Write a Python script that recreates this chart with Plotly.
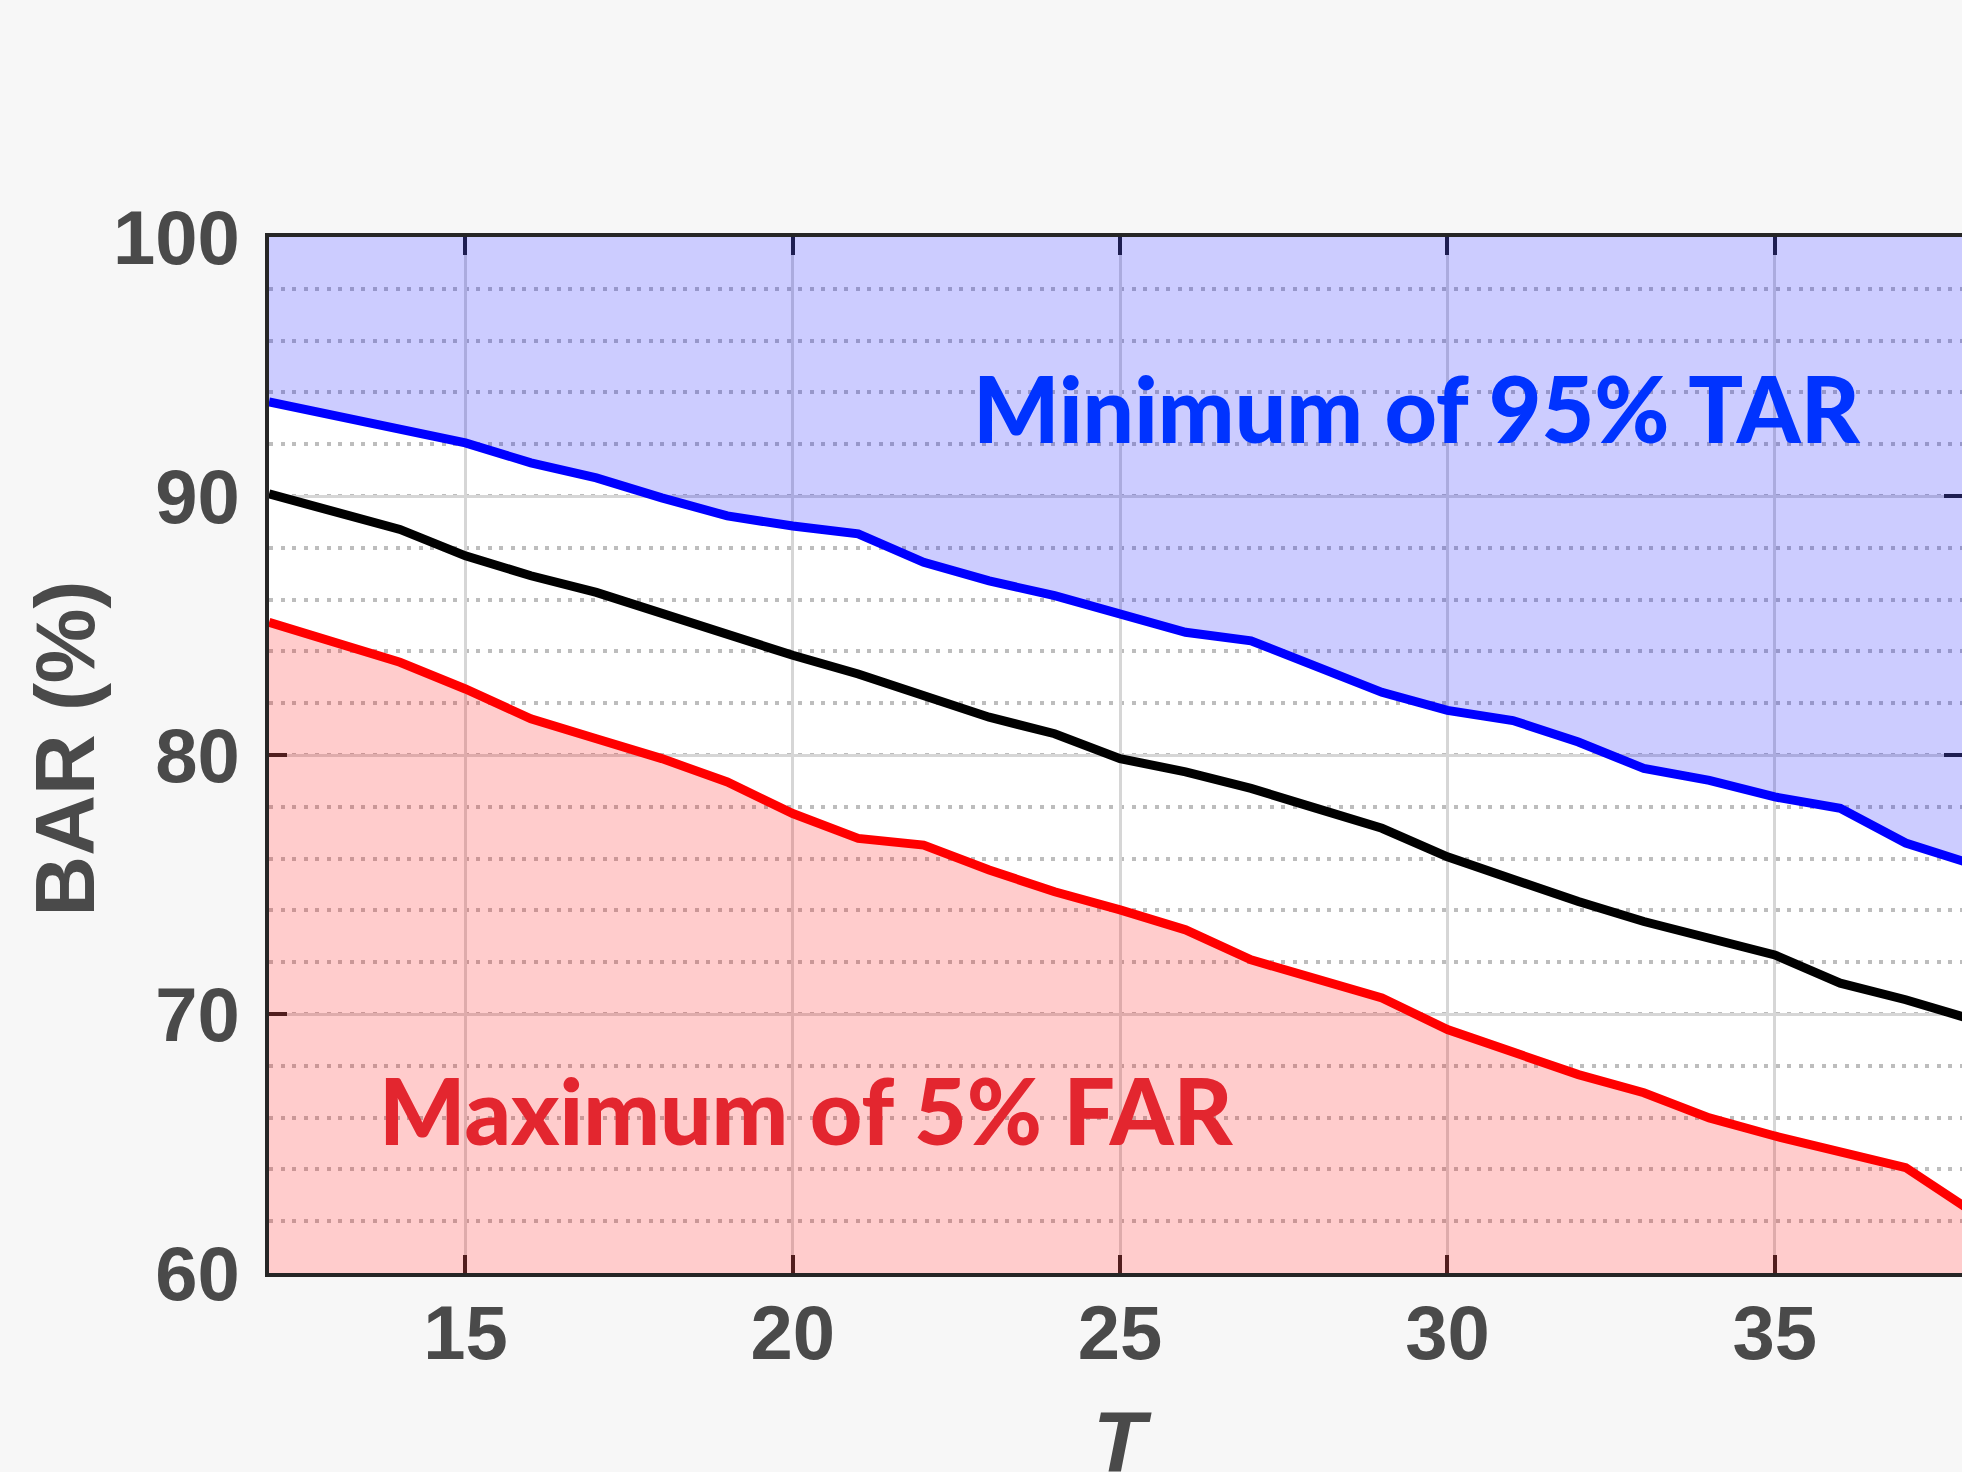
import plotly.graph_objects as go

# Data
T = list(range(12, 39))
tar_min = [93.63, 93.08, 92.56, 92.05, 91.28, 90.70, 89.93, 89.23, 88.84, 88.54,
           87.44, 86.72, 86.15, 85.44, 84.74, 84.41, 83.38, 82.42, 81.72, 81.33,
           80.50, 79.48, 79.02, 78.38, 77.94, 76.60, 75.80]
bar_mid = [90.08, 89.35, 88.71, 87.69, 86.92, 86.28, 85.44, 84.67, 83.85, 83.13,
           82.30, 81.46, 80.82, 79.86, 79.35, 78.71, 77.94, 77.17, 76.07, 75.17,
           74.34, 73.57, 72.93, 72.28, 71.19, 70.55, 69.80]
far_max = [85.12, 84.35, 83.58, 82.55, 81.40, 80.63, 79.86, 78.96, 77.74, 76.78,
           76.52, 75.56, 74.72, 74.02, 73.25, 72.09, 71.39, 70.62, 69.40, 68.50,
           67.66, 66.96, 65.99, 65.29, 64.71, 64.07, 62.40]
top_limit = [100] * len(T)

x_ticks = [15, 20, 25, 30, 35]
y_ticks = [60, 70, 80, 90, 100]

fig = go.Figure()
# shaded regions
fig.add_trace(go.Scatter(x=T, y=tar_min, mode="lines", line=dict(width=0),
                         showlegend=False, hoverinfo="skip"))
fig.add_trace(go.Scatter(x=T, y=top_limit, mode="lines", line=dict(width=0),
                         fill="tonexty", fillcolor="rgba(0,0,255,0.2)",
                         showlegend=False, hoverinfo="skip"))
fig.add_trace(go.Scatter(x=T, y=far_max, mode="lines", line=dict(width=0),
                         fill="tozeroy", fillcolor="rgba(255,0,0,0.2)",
                         showlegend=False, hoverinfo="skip"))
# lines
fig.add_trace(go.Scatter(x=T, y=far_max, mode="lines", line=dict(color="#ff0000", width=9),
                         showlegend=False))
fig.add_trace(go.Scatter(x=T, y=bar_mid, mode="lines", line=dict(color="#000000", width=9),
                         showlegend=False))
fig.add_trace(go.Scatter(x=T, y=tar_min, mode="lines", line=dict(color="#0000ff", width=9),
                         showlegend=False))

label_family = "Liberation Sans, Arial, sans-serif"
tick_font = dict(family=label_family, size=76, color="#4a4a4a", weight="bold")

fig.update_xaxes(
    range=[12, 37.86], tickvals=x_ticks, ticks="inside", ticklen=18, tickwidth=4,
    tickcolor="#262626", showline=True, linecolor="#262626", linewidth=4, mirror="ticks",
    showgrid=True, gridcolor="#d6d6d6", gridwidth=3, zeroline=False, layer="below traces",
    tickfont=tick_font, ticklabelstandoff=-9,
    automargin=False,
)
fig.update_yaxes(
    range=[60, 100], tickvals=y_ticks, ticks="inside", ticklen=18, tickwidth=4,
    tickcolor="#262626", showline=True, linecolor="#262626", linewidth=4, mirror="ticks",
    showgrid=True, gridcolor="#d6d6d6", gridwidth=3, zeroline=False, layer="below traces",
    minor=dict(dtick=2, showgrid=True, gridcolor="#bdbdbd", griddash="4px,7.5px", gridwidth=3.5),
    tickfont=tick_font, ticklabelstandoff=10,
    automargin=False,
)

# axis titles
fig.add_annotation(x=0.504, y=-0.114, xref="paper", yref="paper", text="T",
                   showarrow=False, xanchor="center", yanchor="top",
                   font=dict(family=label_family, size=86, color="#4a4a4a",
                             weight="bold", style="italic"))
fig.add_annotation(x=-0.1207, y=0.506, xref="paper", yref="paper", text="BAR (%)",
                   textangle=-90, showarrow=False, xanchor="center", yanchor="middle",
                   font=dict(family=label_family, size=84, color="#4a4a4a", weight="bold"))

ann_font = "Lato, Inter, sans-serif"
fig.add_annotation(x=29.53, y=93.4, xref="x", yref="y", text="Minimum of 95% TAR",
                   showarrow=False, font=dict(family=ann_font, size=91, color="#0033ff", weight=900))
fig.add_annotation(x=20.21, y=66.3, xref="x", yref="y", text="Maximum of 5% FAR",
                   showarrow=False, font=dict(family=ann_font, size=91, color="#e3262f", weight=900))

fig.update_layout(
    width=1962, height=1472,
    margin=dict(l=269, r=0, t=237, b=199),
    paper_bgcolor="#f7f7f7", plot_bgcolor="#ffffff",
    showlegend=False,
)

fig.write_html("out.html")
